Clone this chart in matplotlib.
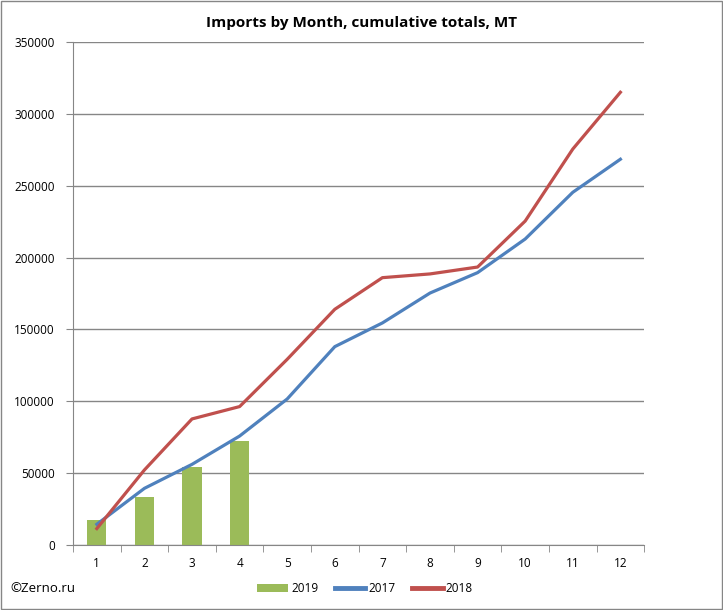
import numpy as np
import matplotlib.pyplot as plt
from matplotlib.patches import Rectangle

months = ['1', '2', '3', '4', '5', '6', '7', '8', '9', '10', '11', '12']
imports_2019 = [17400, 33400, 54300, 72400]
imports_2017 = [14400, 39400, 56100, 75800, 101600, 138000, 154500,
                175300, 189500, 212900, 245400, 268400]
imports_2018 = [11400, 52200, 87700, 96300, 129200, 164000, 186000,
                188600, 193400, 225400, 275500, 315000]

green = '#9BBB59'
blue = '#4F81BD'
red = '#C0504D'
grey = '#868686'

plt.rcParams['font.family'] = ['Open Sans', 'DejaVu Sans']

fig = plt.figure(figsize=(7.23, 6.1), dpi=100)
ax = fig.add_axes([0.101, 0.1066, 0.790, 0.8246])

x = np.arange(len(months))
b = ax.bar(x[:len(imports_2019)], imports_2019, 0.4, color=green, label='2019', zorder=2)
l1, = ax.plot(x, imports_2017, color=blue, lw=2.3, label='2017', zorder=3)
l2, = ax.plot(x, imports_2018, color=red, lw=2.3, label='2018', zorder=3)

ax.set_xlim(-0.5, len(months) - 0.5)
ax.set_ylim(0, 350000)
ax.set_yticks(range(0, 350001, 50000))
ax.set_yticklabels([str(v) for v in range(0, 350001, 50000)], fontsize=8.5)
ax.set_xticks(x)
ax.set_xticklabels(months, fontsize=8.5)
ax.set_xticks(np.arange(-0.5, len(months)), minor=True)
ax.tick_params(axis='x', which='major', length=0, pad=9)
ax.tick_params(axis='x', which='minor', length=5, color=grey, direction='out')
ax.tick_params(axis='y', length=5, color=grey, direction='out', pad=8)
ax.grid(axis='y', color=grey, lw=1, zorder=0)
ax.set_axisbelow(True)

for s in ['top', 'right']:
    ax.spines[s].set_visible(False)
for s in ['left', 'bottom']:
    ax.spines[s].set_color(grey)

fig.text(0.5, 0.963, 'Imports by Month, cumulative totals, MT', ha='center', va='center',
         fontsize=11, fontweight='bold')
fig.text(0.014, 0.036, '©Zerno.ru', ha='left', va='center', fontsize=9.5)

leg = fig.legend([b, l1, l2], ['2019', '2017', '2018'], loc='center',
                 bbox_to_anchor=(0.505, 0.035), ncol=3, frameon=False,
                 fontsize=8.5, handlelength=2.6, handletextpad=0.25, columnspacing=1.4)
for h in leg.legend_handles[1:]:
    h.set_linewidth(3.5)

fig.patches.append(Rectangle((0.001, 0.002), 0.997, 0.996, transform=fig.transFigure,
                             fill=False, edgecolor=grey, lw=1))

fig.savefig('out.png', dpi=100)
